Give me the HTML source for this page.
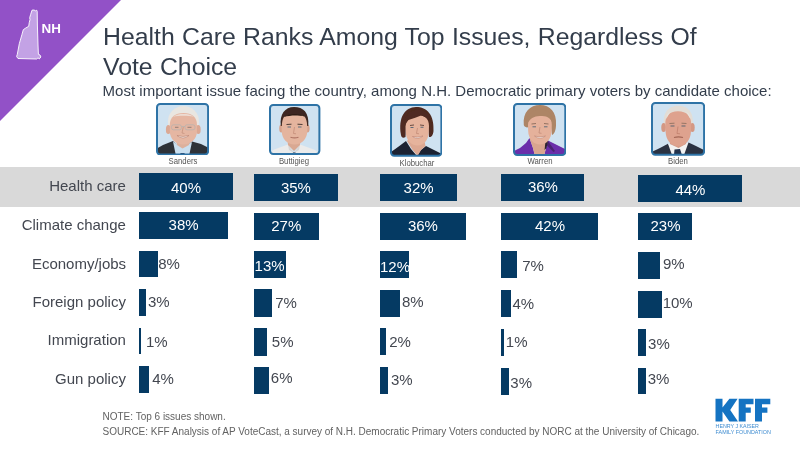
<!DOCTYPE html>
<html><head><meta charset="utf-8"><style>
html,body{margin:0;padding:0;background:#fff;}
body{width:800px;height:450px;position:relative;overflow:hidden;font-family:"Liberation Sans",sans-serif;will-change:transform;}
.a{position:absolute;}
.t{position:absolute;white-space:nowrap;line-height:1;}
.bar{position:absolute;background:#053a63;}
.v{position:absolute;white-space:nowrap;line-height:1;font-size:15px;}
.rl{position:absolute;white-space:nowrap;line-height:1;color:#434750;font-size:15px;text-align:right;width:200px;}
.nm{position:absolute;white-space:nowrap;line-height:1;color:#555;font-size:9px;width:80px;text-align:center;transform:scaleX(0.86);}
</style></head><body>

<svg class="a" style="left:0;top:0" width="130" height="130" viewBox="0 0 130 130"><polygon points="0,0 121,0 0,121" fill="#9251c7"/><path d="M32,10.2 L34,10 L35.8,10.9 L36.7,10.2 L37.2,11.4 L37.4,25 L38,45 L38.4,54.3 L40,55 L40.9,57 L39.3,58.9 L38,57.8 L36.7,59 L18,58.5 L16.6,56.5 L17.3,54.3 L19.3,43.7 L22,34.3 L23.3,29.7 L25.3,28.3 L28.7,26.3 L29.3,22.3 L30,19.7 L29.7,17.7 L30.7,14.3 Z" fill="#c3a2e5" stroke="#ffffff" stroke-width="0.9"/></svg>
<div class="t" style="left:41.6px;top:22.4px;font-size:13.4px;font-weight:bold;color:#fff">NH</div>
<div class="t" style="left:103px;top:22px;font-size:24.8px;color:#333d4b;word-spacing:0.4px;line-height:30px">Health Care Ranks Among Top Issues, Regardless Of<br>Vote Choice</div>
<div class="t" style="left:102.6px;top:83px;font-size:15px;color:#333d4b;word-spacing:0.05px">Most important issue facing the country, among N.H. Democratic primary voters by candidate choice:</div>
<div class="a" style="left:0;top:167.4px;width:800px;height:39.4px;background:#d9d9d9"></div>
<div class="rl" style="left:-74.1px;top:177.5px">Health care</div>
<div class="rl" style="left:-74.1px;top:216.8px">Climate change</div>
<div class="rl" style="left:-73.9px;top:255.6px">Economy/jobs</div>
<div class="rl" style="left:-74.1px;top:294.3px">Foreign policy</div>
<div class="rl" style="left:-74.1px;top:332.4px">Immigration</div>
<div class="rl" style="left:-74.1px;top:371.3px">Gun policy</div>
<div class="a" style="left:156.0px;top:102.8px;width:53.1px;height:52.5px"><svg width="53.1" height="52.5" viewBox="0 0 53.1 52.5"><defs><filter id="b0" x="-5%" y="-5%" width="110%" height="110%"><feGaussianBlur stdDeviation="0.35"/></filter><clipPath id="c0"><rect x="1" y="1" width="51.1" height="50.5" rx="3.2"/></clipPath></defs><g clip-path="url(#c0)"><rect width="53.1" height="52.5" fill="#cfe2f1"/><g filter="url(#b0)"><path d="M0,46 L7,42 L17,38 L26,47 L36,38.5 L45,41 L53,45 L53,53 L0,53 Z" fill="#2e3139"/><path d="M17,38.5 L20,53 L33,53 L36,39 L26,45 Z" fill="#cadfef"/><path d="M24.5,50 L28.5,50 L29,53 L24,53 Z" fill="#2a3b5a"/><path d="M19.5,35 L34.5,35 L33,42 L26.5,45.5 L21,42 Z" fill="#ddb09c"/><ellipse cx="27.5" cy="18.5" rx="15.5" ry="15.5" fill="#e9e6e1"/><ellipse cx="12.3" cy="26.5" rx="2.4" ry="4.6" fill="#dba894"/><ellipse cx="42.3" cy="26.5" rx="2.4" ry="4.6" fill="#dba894"/><path d="M13.8,22 C13.8,14 19,10 27.5,10 C36,10 41,14 41,22 L41,28 C41,36 35,41.5 27.3,41.5 C19.5,41.5 13.8,36 13.8,28 Z" fill="#e5b6a2"/><path d="M17,14 C20,11.5 24,11 27.5,11 C31,11 35,11.5 38,14 C35,13 31,12.8 27.5,12.8 C24,12.8 20,13 17,14 Z" fill="#f0ece8" opacity="0.7"/><rect x="15.5" y="21.8" width="10" height="5" rx="2" fill="none" stroke="#b9b2ad" stroke-width="0.8"/><rect x="29" y="21.8" width="10" height="5" rx="2" fill="none" stroke="#b9b2ad" stroke-width="0.8"/><path d="M25.5,23.5 L29,23.5" stroke="#b9b2ad" stroke-width="0.8"/><path d="M22.5,24.3 L19,24.3 M31.5,24.3 L35.5,24.3" stroke="#8a7870" stroke-width="0.9"/><path d="M27.3,24 L26,30 L28.5,30.5" stroke="#c7937f" stroke-width="0.8" fill="none"/><path d="M21,32.5 Q27,37.5 33,32.5 Q27,34.5 21,32.5 Z" fill="#f7f1ed" stroke="#b98270" stroke-width="0.6"/></g></g><rect x="1" y="1" width="51.1" height="50.5" rx="3.2" fill="none" stroke="#2e73a6" stroke-width="2"/></svg></div>
<div class="nm" style="left:142.50px;top:156.84px">Sanders</div>
<div class="bar" style="left:139.0px;top:173.0px;width:94.0px;height:27.0px"></div>
<div class="bar" style="left:139.0px;top:212.0px;width:89.0px;height:26.5px"></div>
<div class="bar" style="left:139.0px;top:250.5px;width:19.0px;height:26.5px"></div>
<div class="bar" style="left:139.0px;top:289.0px;width:7.0px;height:27.0px"></div>
<div class="bar" style="left:139.0px;top:327.6px;width:2.2px;height:26.7px"></div>
<div class="bar" style="left:139.0px;top:366.1px;width:9.8px;height:26.5px"></div>
<div class="v" style="left:170.99px;top:179.53px;color:#fff">40%</div>
<div class="v" style="left:168.59px;top:217.07px;color:#fff">38%</div>
<div class="v" style="left:158.19px;top:256.33px;color:#434750">8%</div>
<div class="v" style="left:147.91px;top:294.35px;color:#434750">3%</div>
<div class="v" style="left:145.88px;top:333.87px;color:#434750">1%</div>
<div class="v" style="left:152.22px;top:370.51px;color:#434750">4%</div>
<div class="a" style="left:269.3px;top:104.0px;width:51.4px;height:50.9px"><svg width="51.4" height="50.9" viewBox="0 0 51.4 50.9"><defs><filter id="b1" x="-5%" y="-5%" width="110%" height="110%"><feGaussianBlur stdDeviation="0.35"/></filter><clipPath id="c1"><rect x="1" y="1" width="49.4" height="48.9" rx="3.2"/></clipPath></defs><g clip-path="url(#c1)"><rect width="51.4" height="50.9" fill="#cfe2f1"/><g filter="url(#b1)"><path d="M0,51 L4,46 L12,43 L19,40.5 L25,49 L31,40.5 L38,43 L46,46 L51,50 L51,51 Z" fill="#ebebeb"/><path d="M19,40.5 L25,49 L20,46 Z M31,40.5 L25,49 L30,46 Z" fill="#d6d6d6"/><path d="M18.5,35 L31.5,35 L31,41 L25,47 L19,41 Z" fill="#d9a892"/><path d="M24,48.5 L26.5,48.5 L27,51 L23.5,51 Z" fill="#2b3040"/><ellipse cx="12.2" cy="24.5" rx="2" ry="4" fill="#d6a28c"/><ellipse cx="38.6" cy="24.5" rx="2" ry="4" fill="#d6a28c"/><path d="M12.5,20 C12.5,12 17.5,8.5 25.5,8.5 C33.5,8.5 38.5,12 38.5,20 L38.3,27 C38,35 33,40.5 25.5,40.5 C18,40.5 13,35 12.7,27 Z" fill="#e4b49e"/><path d="M11.8,22 C10.5,10 16,3 25,2.9 C34,2.8 40.5,8 39.3,22 L38.2,22 C38,17 37,14 35.5,12.5 C30,10.5 20,10.5 15,13 C13.5,15 13,18 12.8,22 Z" fill="#3c2820"/><path d="M15,13 C20,9 30,9 36,12.5 C30,11 21,11 15,13 Z" fill="#2e1e18"/><path d="M17.5,20.5 L22.5,20.2 M28.5,20.2 L33.5,20.5" stroke="#4a3a34" stroke-width="1"/><path d="M18.5,23 L22,23 M29,23 L32.5,23" stroke="#5c6e7c" stroke-width="1.1"/><path d="M25.5,23 L24.5,29.5 L27,29.8" stroke="#c48d78" stroke-width="0.8" fill="none"/><path d="M21.5,33.3 Q25.5,34.5 29.5,33.3" stroke="#b07565" stroke-width="1.1" fill="none"/></g></g><rect x="1" y="1" width="49.4" height="48.9" rx="3.2" fill="none" stroke="#2e73a6" stroke-width="2"/></svg></div>
<div class="nm" style="left:254.20px;top:157.10px">Buttigieg</div>
<div class="bar" style="left:254.3px;top:173.7px;width:84.2px;height:27.0px"></div>
<div class="bar" style="left:254.3px;top:212.7px;width:64.6px;height:27.3px"></div>
<div class="bar" style="left:254.3px;top:251.1px;width:31.6px;height:26.7px"></div>
<div class="bar" style="left:254.3px;top:289.4px;width:17.6px;height:27.2px"></div>
<div class="bar" style="left:254.3px;top:328.0px;width:12.6px;height:27.6px"></div>
<div class="bar" style="left:254.3px;top:367.0px;width:15.1px;height:27.0px"></div>
<div class="v" style="left:280.89px;top:180.18px;color:#fff">35%</div>
<div class="v" style="left:271.23px;top:218.46px;color:#fff">27%</div>
<div class="v" style="left:254.60px;top:257.70px;color:#fff">13%</div>
<div class="v" style="left:275.17px;top:294.76px;color:#434750">7%</div>
<div class="v" style="left:271.80px;top:334.36px;color:#434750">5%</div>
<div class="v" style="left:270.83px;top:370.33px;color:#434750">6%</div>
<div class="a" style="left:390.0px;top:104.0px;width:52.4px;height:52.7px"><svg width="52.4" height="52.7" viewBox="0 0 52.4 52.7"><defs><filter id="b2" x="-5%" y="-5%" width="110%" height="110%"><feGaussianBlur stdDeviation="0.35"/></filter><clipPath id="c2"><rect x="1" y="1" width="50.4" height="50.7" rx="3.2"/></clipPath></defs><g clip-path="url(#c2)"><rect width="52.4" height="52.7" fill="#cfe2f1"/><g filter="url(#b2)"><path d="M0,52 L1,48 L8,43 L16,37 L21,45 L27,52 L31,46 L36,42 L44,46 L52,50 L52,52 Z" fill="#1e2230"/><path d="M17,37 L22,45 L27.5,52 L31,46 L35.5,42 L34,35 L19,35 Z" fill="#dda892"/><path d="M11,31 C8,13 15,3.5 26,3 C37,3 44.5,11 43.5,27 C43,32 41,33.5 39,33 L38,22 L16,22 L15.5,33 C13,34.5 11.5,33.5 11,31 Z" fill="#4f2a20"/><path d="M15.5,22 C15.5,15 20,11 27.5,11 C35,11 39,15 39,22 L38.8,28 C38.5,36 34,41.5 27.5,41.5 C21,41.5 16,36 15.8,28 Z" fill="#e6b39c"/><path d="M14.5,24 C13.5,10 21,5 29,5.5 C37,6 42,12 41.5,21 C40,16 36,12.5 31,11.5 C27,13.5 22,14.5 18.5,16 C16.5,18 15.5,21 14.5,24 Z" fill="#4f2a20"/><path d="M38.5,14 C42,18 43,24 41.5,31 L39,31 C39.5,25 39.5,19 38.5,14 Z" fill="#4f2a20"/><path d="M20,21.5 L24,21 M30,21 L34,21.5" stroke="#5a3e36" stroke-width="0.9"/><path d="M20.5,23.5 L23.5,23.5 M30.5,23.2 L33.5,23.2" stroke="#5d6a78" stroke-width="1.1"/><path d="M27.5,24 L26.5,29.5 L29,29.8" stroke="#c38a76" stroke-width="0.8" fill="none"/><path d="M22.5,32.5 Q27.5,36.5 33,32 Q27.5,34 22.5,32.5 Z" fill="#f4ece8" stroke="#b3786a" stroke-width="0.5"/></g></g><rect x="1" y="1" width="50.4" height="50.7" rx="3.2" fill="none" stroke="#2e73a6" stroke-width="2"/></svg></div>
<div class="nm" style="left:376.65px;top:158.71px">Klobuchar</div>
<div class="bar" style="left:380.1px;top:174.0px;width:76.6px;height:26.7px"></div>
<div class="bar" style="left:380.1px;top:212.7px;width:85.9px;height:27.0px"></div>
<div class="bar" style="left:380.1px;top:251.0px;width:29.2px;height:26.6px"></div>
<div class="bar" style="left:380.1px;top:289.5px;width:19.9px;height:27.3px"></div>
<div class="bar" style="left:380.1px;top:328.2px;width:5.5px;height:27.2px"></div>
<div class="bar" style="left:380.1px;top:366.9px;width:7.9px;height:27.1px"></div>
<div class="v" style="left:403.59px;top:179.51px;color:#fff">32%</div>
<div class="v" style="left:407.89px;top:217.79px;color:#fff">36%</div>
<div class="v" style="left:379.98px;top:258.65px;color:#fff">12%</div>
<div class="v" style="left:401.95px;top:293.68px;color:#434750">8%</div>
<div class="v" style="left:389.26px;top:334.04px;color:#434750">2%</div>
<div class="v" style="left:390.91px;top:372.39px;color:#434750">3%</div>
<div class="a" style="left:513.0px;top:102.8px;width:53.3px;height:53.0px"><svg width="53.3" height="53.0" viewBox="0 0 53.3 53.0"><defs><filter id="b3" x="-5%" y="-5%" width="110%" height="110%"><feGaussianBlur stdDeviation="0.35"/></filter><clipPath id="c3"><rect x="1" y="1" width="51.3" height="51.0" rx="3.2"/></clipPath></defs><g clip-path="url(#c3)"><rect width="53.3" height="53.0" fill="#cfe2f1"/><g filter="url(#b3)"><path d="M0,53 L0,48.5 L7,45 L13,40 L16.5,35 L20,45 L22,53 L31,53 L33,45 L35,37.5 L42,41 L53,46.5 L53,53 Z" fill="#6a2faa"/><path d="M16.5,35 L20,45 L22,53 L31,53 L33,45 L35,37.5 L33,34 L19,34 Z" fill="#d9a58f"/><path d="M34.8,37.8 L42,48 L40.5,49 L33.5,42 Z" fill="#3a1f5a" opacity="0.7"/><path d="M32.5,38.5 L35,37.8 L33.5,45 L31.5,47 Z" fill="#2a2030"/><path d="M10.8,22 C9.5,9 17,2 27,2 C37,2 44,9 43,22 C43,27 41.5,31 39,32 L38,24 L16,24 L14,24.5 C12,24 11,23 10.8,22 Z" fill="#ad8566"/><path d="M15,22 C15,14 20,11 27,11 C34,11 38.8,14 38.8,22 L38.6,28 C38.3,36 33.5,41.6 27,41.6 C20.5,41.6 15.5,36 15.2,28 Z" fill="#e5b19b"/><path d="M13.5,22 C13,12 19,6.5 27,6.5 C35,6.5 41,11 40.5,22 C38.5,15.5 34,12.5 28,13 C22,12.5 17,15 13.5,22 Z" fill="#ad8566"/><path d="M18.5,21 L23,20.5 M31,20.5 L35.5,21" stroke="#8a6a5a" stroke-width="0.9"/><path d="M19.5,23.8 L23,23.8 M31,23.8 L34.5,23.8" stroke="#5e6c7a" stroke-width="1"/><path d="M27,24 L26,30 L28.5,30.3" stroke="#c28b77" stroke-width="0.8" fill="none"/><path d="M21.5,33 Q27,37.5 32.5,33 Q27,35 21.5,33 Z" fill="#f7f0ec" stroke="#b77c6c" stroke-width="0.5"/></g></g><rect x="1" y="1" width="51.3" height="51.0" rx="3.2" fill="none" stroke="#2e73a6" stroke-width="2"/></svg></div>
<div class="nm" style="left:500.02px;top:157.04px">Warren</div>
<div class="bar" style="left:501.4px;top:174.0px;width:82.6px;height:26.9px"></div>
<div class="bar" style="left:501.4px;top:212.7px;width:96.6px;height:27.0px"></div>
<div class="bar" style="left:501.4px;top:251.0px;width:16.0px;height:27.2px"></div>
<div class="bar" style="left:501.4px;top:290.1px;width:9.3px;height:27.2px"></div>
<div class="bar" style="left:501.4px;top:328.8px;width:2.5px;height:27.1px"></div>
<div class="bar" style="left:501.4px;top:367.6px;width:7.4px;height:27.0px"></div>
<div class="v" style="left:527.89px;top:179.15px;color:#fff">36%</div>
<div class="v" style="left:534.99px;top:218.41px;color:#fff">42%</div>
<div class="v" style="left:522.26px;top:258.36px;color:#434750">7%</div>
<div class="v" style="left:512.50px;top:295.78px;color:#434750">4%</div>
<div class="v" style="left:505.83px;top:334.31px;color:#434750">1%</div>
<div class="v" style="left:510.33px;top:374.74px;color:#434750">3%</div>
<div class="a" style="left:650.8px;top:101.8px;width:54.1px;height:53.8px"><svg width="54.1" height="53.8" viewBox="0 0 54.1 53.8"><defs><filter id="b4" x="-5%" y="-5%" width="110%" height="110%"><feGaussianBlur stdDeviation="0.35"/></filter><clipPath id="c4"><rect x="1" y="1" width="52.1" height="51.8" rx="3.2"/></clipPath></defs><g clip-path="url(#c4)"><rect width="54.1" height="53.8" fill="#cfe2f1"/><g filter="url(#b4)"><path d="M0,53 L0.5,50 L8,46.5 L17,41.8 L26.5,53 L37.5,40.5 L44,43.5 L53,48 L53,53 Z" fill="#2c3242"/><path d="M17,41.8 L21,53 L33,53 L37.5,40.5 L28,45 Z" fill="#f2f2f2"/><path d="M23.5,47.5 L29,47 L31,53 L23,53 Z" fill="#22314c"/><path d="M19,36 L35,36 L35,42 L27.5,46 L19,42 Z" fill="#d59b87"/><path d="M13,24 C11,10 18,3.8 27.3,3.8 C36.5,3.8 43.5,10 41.5,24 Z" fill="#e2ddd6"/><ellipse cx="12.6" cy="25.5" rx="2.3" ry="4.6" fill="#d49884"/><ellipse cx="41.4" cy="25.5" rx="2.3" ry="4.6" fill="#d49884"/><path d="M14.3,22 C14.3,14 18,9.5 27,9.2 C36,9.5 40.2,14 40.2,22 L40,29 C39.8,38 34.5,44 27.2,44 C20,44 14.8,38 14.5,29 Z" fill="#dea28e"/><path d="M15,17 C15.5,13 17,11 19.5,10 C17.5,12.5 16.5,15 15,17 Z M39.5,17 C39,13 37.5,11 35,10 C37,12.5 38,15 39.5,17 Z" fill="#e8e4de"/><path d="M18.5,21.5 L23.5,21.2 M30.5,21.2 L35.5,21.5" stroke="#8f7060" stroke-width="0.9"/><path d="M19.5,24 L23.5,24 M30.5,24 L34.5,24" stroke="#5c6470" stroke-width="1.1"/><path d="M27,24.5 L26,31.5 L29,31.8" stroke="#c07f6c" stroke-width="0.8" fill="none"/><path d="M23,35.5 Q27.5,34.3 32,35.5" stroke="#a46656" stroke-width="1.2" fill="none"/></g></g><rect x="1" y="1" width="52.1" height="51.8" rx="3.2" fill="none" stroke="#2e73a6" stroke-width="2"/></svg></div>
<div class="nm" style="left:637.87px;top:157.04px">Biden</div>
<div class="bar" style="left:638.1px;top:175.0px;width:103.9px;height:26.8px"></div>
<div class="bar" style="left:638.1px;top:213.3px;width:54.2px;height:26.9px"></div>
<div class="bar" style="left:638.1px;top:251.7px;width:21.9px;height:27.1px"></div>
<div class="bar" style="left:638.1px;top:290.8px;width:24.3px;height:26.9px"></div>
<div class="bar" style="left:638.1px;top:329.2px;width:7.6px;height:26.7px"></div>
<div class="bar" style="left:638.1px;top:367.6px;width:7.6px;height:26.9px"></div>
<div class="v" style="left:675.45px;top:181.75px;color:#fff">44%</div>
<div class="v" style="left:650.46px;top:218.16px;color:#fff">23%</div>
<div class="v" style="left:663.03px;top:255.99px;color:#434750">9%</div>
<div class="v" style="left:662.63px;top:295.43px;color:#434750">10%</div>
<div class="v" style="left:648.12px;top:335.67px;color:#434750">3%</div>
<div class="v" style="left:647.65px;top:371.02px;color:#434750">3%</div>
<div class="t" style="left:102.5px;top:412px;font-size:10px;color:#626262;word-spacing:0px">NOTE: Top 6 issues shown.</div>
<div class="t" style="left:102.5px;top:426.5px;font-size:10px;color:#626262;word-spacing:-0.05px">SOURCE: KFF Analysis of AP VoteCast, a survey of N.H. Democratic Primary Voters conducted by NORC at the University of Chicago.</div>
<svg class="a" style="left:0;top:0" width="800" height="450" viewBox="0 0 800 450"><path fill="#1473c2" d="M715.5,398.7 L722.5,398.7 L722.5,407.6 L729.4,398.7 L737.6,398.7 L730.2,409.9 L738,421.4 L729.4,421.4 L722.5,411.5 L722.5,421.4 L715.5,421.4 Z M738.7,398.7 L753.5,398.7 L753.5,404.3 L745.7,404.3 L745.7,407.4 L750.8,407.4 L750.8,412.8 L745.7,412.8 L745.7,421.4 L738.7,421.4 Z M755,398.7 L770.3,398.7 L770.3,404.3 L762,404.3 L762,407.4 L767.4,407.4 L767.4,412.8 L762,412.8 L762,421.4 L755,421.4 Z"/><text x="715.6" y="428.4" font-family="Liberation Sans" font-size="4.9" fill="#3d8bd0" textLength="43.3" lengthAdjust="spacingAndGlyphs">HENRY J KAISER</text><text x="715.6" y="434.3" font-family="Liberation Sans" font-size="4.9" fill="#3d8bd0" textLength="55.2" lengthAdjust="spacingAndGlyphs">FAMILY FOUNDATION</text></svg>
</body></html>
